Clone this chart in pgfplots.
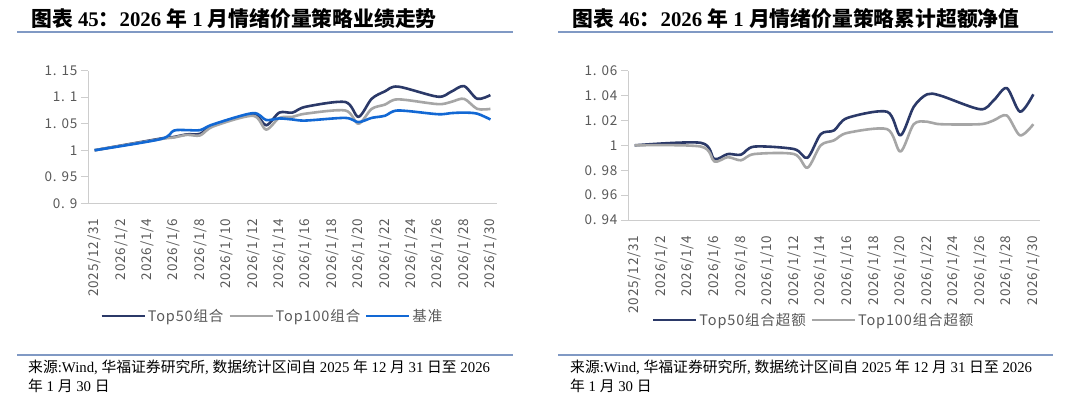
\documentclass[border=0pt]{standalone}
\usepackage{fontspec}
\setmainfont{Liberation Serif}
\newfontfamily\cjk{Noto Sans CJK SC}
\newfontfamily\cjkwide{Noto Sans CJK SC}[LetterSpace=6]
\usepackage{pgfplots}
\usepackage{pgfplotstable}
\pgfplotsset{compat=1.18}

\definecolor{navy}{RGB}{43,57,104}
\definecolor{midgray}{RGB}{166,166,166}
\definecolor{bblue}{RGB}{18,104,212}
\definecolor{axisgray}{RGB}{205,205,205}
\definecolor{tickgray}{RGB}{89,89,89}
\definecolor{rulecol}{RGB}{128,153,196}

\pgfplotstableread{
day top50 top100 bench
0 1.000 1.000 1.000
5 1.022 1.021 1.021
6 1.025 1.024 1.037
7 1.030 1.029 1.038
8 1.031 1.028 1.038
9 1.047 1.045 1.049
12 1.068 1.065 1.070
13 1.047 1.039 1.057
14 1.071 1.061 1.060
15 1.071 1.063 1.058
16 1.082 1.069 1.056
19 1.091 1.075 1.061
20 1.063 1.050 1.053
21 1.097 1.078 1.061
22 1.111 1.086 1.065
23 1.120 1.096 1.075
26 1.101 1.087 1.068
27 1.110 1.091 1.070
28 1.121 1.097 1.071
29 1.097 1.078 1.069
30 1.104 1.078 1.058
}\perfdata

\pgfplotstableread{
day top50 top100
0 1.000 1.000
5 1.002 0.999
6 0.989 0.987
7 0.993 0.9905
8 0.9925 0.988
9 0.999 0.993
12 0.997 0.993
13 0.990 0.982
14 1.009 1.000
15 1.012 1.004
16 1.022 1.010
19 1.027 1.013
20 1.008 0.995
21 1.031 1.017
22 1.041 1.019
23 1.040 1.017
26 1.029 1.017
27 1.036 1.020
28 1.046 1.024
29 1.027 1.008
30 1.041 1.017
}\excessdata

\newcommand\tickf{\cjkwide\fontsize{13.5}{15}\selectfont}
\newcommand\legf{\cjkwide\fontsize{14.5}{16}\selectfont}
\newcommand\titlef{\fontsize{20.8}{23}\selectfont\bfseries}
\newcommand\srcf{\fontsize{14.8}{16}\selectfont}

\pgfplotsset{
  common/.style={
    scale only axis,
    anchor=south west,
    xmin=-0.5, xmax=30.5,
    axis x line*=bottom, axis y line*=left,
    axis line style={draw=axisgray, line width=0.9pt, -},
    xtick={0,2,...,30},
    xticklabels={2025/12/31,2026/1/2,2026/1/4,2026/1/6,2026/1/8,2026/1/10,2026/1/12,2026/1/14,2026/1/16,2026/1/18,2026/1/20,2026/1/22,2026/1/24,2026/1/26,2026/1/28,2026/1/30},
    x tick style={draw=none},
    xticklabel shift=5pt,
    x tick label style={rotate=90, anchor=east, font=\tickf, text=tickgray},
    y tick label style={font=\tickf, text=tickgray},
    y tick style={draw=axisgray, line width=0.9pt},
    tick align=outside, major tick length=7pt,
    legend columns=3,
    legend style={draw=none, fill=none, font=\legf, text=tickgray,
      /tikz/every even column/.append style={column sep=3pt}},
    legend image code/.code={\draw[#1, line width=2.2pt] (0pt,0pt) -- (43pt,0pt);},
    every axis plot/.append style={line width=2.6pt, smooth, tension=0.5, line join=round},
  }
}

\begin{document}
\begin{tikzpicture}[x=1pt,y=1pt]
\fill[white] (0,0) rectangle (1080,403);

% titles
\node[anchor=base west, inner sep=0] at (31,376) {\titlef{\cjk 图表} 45{\cjk ：}2026 {\cjk 年} 1 {\cjk 月情绪价量策略业绩走势}};
\node[anchor=base west, inner sep=0] at (572,376) {\titlef{\cjk 图表} 46{\cjk ：}2026 {\cjk 年} 1 {\cjk 月情绪价量策略累计超额净值}};
\draw[rulecol, line width=2pt] (17,370.7) -- (513,370.7);
\draw[rulecol, line width=2pt] (558,370.7) -- (1053,370.7);

% sources
\draw[rulecol, line width=1.5pt] (17,48) -- (513,48);
\draw[rulecol, line width=1.5pt] (558,48) -- (1053,48);
\node[anchor=base west, inner sep=0] at (28,30) {\srcf{\cjk 来源}:Wind, {\cjk 华福证券研究所}, {\cjk 数据统计区间自} 2025 {\cjk 年} 12 {\cjk 月} 31 {\cjk 日至} 2026};
\node[anchor=base west, inner sep=0] at (28,11.5) {\srcf{\cjk 年} 1 {\cjk 月} 30 {\cjk 日}};
\node[anchor=base west, inner sep=0] at (570,30) {\srcf{\cjk 来源}:Wind, {\cjk 华福证券研究所}, {\cjk 数据统计区间自} 2025 {\cjk 年} 12 {\cjk 月} 31 {\cjk 日至} 2026};
\node[anchor=base west, inner sep=0] at (570,11.5) {\srcf{\cjk 年} 1 {\cjk 月} 30 {\cjk 日}};

\begin{axis}[common,
  at={(88pt,199.7pt)}, width=409pt, height=132.6pt,
  ymin=0.9, ymax=1.15,
  ytick={0.9,0.95,1,1.05,1.1,1.15},
  yticklabels={0. 9,0. 95,1,1. 05,1. 1,1. 15},
  legend style={at={(0.451,-0.85)}, anchor=center},
]
\addplot[navy] table[x=day,y=top50] {\perfdata};
\addlegendentry{Top50组合}
\addplot[midgray] table[x=day,y=top100] {\perfdata};
\addlegendentry{Top100组合}
\addplot[bblue] table[x=day,y=bench] {\perfdata};
\addlegendentry{基准}
\end{axis}

\begin{axis}[common,
  at={(628pt,183pt)}, width=412pt, height=149.3pt,
  ymin=0.94, ymax=1.06,
  ytick={0.94,0.96,0.98,1,1.02,1.04,1.06},
  yticklabels={0. 94,0. 96,0. 98,1,1. 02,1. 04,1. 06},
  legend style={at={(0.451,-0.67)}, anchor=center},
]
\addplot[navy] table[x=day,y=top50] {\excessdata};
\addlegendentry{Top50组合超额}
\addplot[midgray] table[x=day,y=top100] {\excessdata};
\addlegendentry{Top100组合超额}
\end{axis}

\pgfresetboundingbox
\path[use as bounding box] (0,0) rectangle (1080,403);
\end{tikzpicture}
\end{document}
